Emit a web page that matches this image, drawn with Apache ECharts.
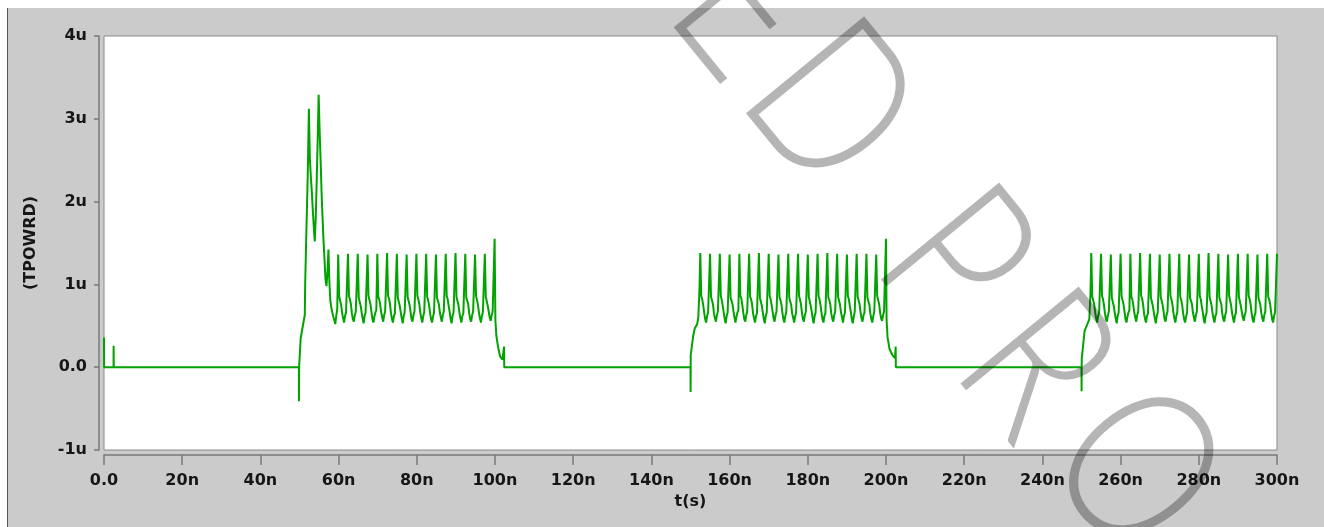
<!DOCTYPE html>
<html>
<head>
<meta charset="utf-8">
<script src="https://cdn.jsdelivr.net/npm/echarts@6/dist/echarts.min.js"></script>
<style>
  html, body { margin: 0; padding: 0; background: #ffffff; }
  #frame { position: absolute; left: 7px; top: 8px; width: 1317px; height: 519px;
           background: #cbcbcb; border-left: 1px solid #555; box-sizing: border-box; }
  #chart { position: absolute; left: 0; top: 0; width: 1324px; height: 527px; }
</style>
</head>
<body>
<div id="frame"></div>
<div id="chart"></div>
<script>
// TPOWRD transient trace: time in ns, power in u units.

// Quiet start and the first power-up edge: [t, value] pairs
const leadIn = [
  [0, 0.36], [0.02, 0], [2.44, 0], [2.46, 0.26], [2.5, 0],
  [49.84, 0], [49.86, -0.41], [49.9, 0], [50.3, 0.35], [51.35, 0.63],
  [51.45, 1.0], [51.8, 1.72], [52.1, 2.3]
];

// First burst, sampled every 0.25 ns from 52.4 ns (one row per 2.5 ns clock)
const burst1 = [
  [3.12, 2.52, 2.30, 2.12, 1.90, 1.70, 1.52, 1.80, 2.25, 2.75],
  [3.29, 2.85, 2.50, 2.10, 1.80, 1.52, 1.30, 1.06, 0.98, 1.15],
  [1.42, 1.02, 0.80, 0.72, 0.66, 0.61, 0.57, 0.52, 0.62, 0.70],
  [1.36, 0.85, 0.83, 0.75, 0.66, 0.59, 0.54, 0.62, 0.66, 0.68],
  [1.37, 0.86, 0.82, 0.76, 0.65, 0.58, 0.55, 0.63, 0.67, 0.67],
  [1.37, 0.84, 0.83, 0.74, 0.66, 0.59, 0.53, 0.62, 0.66, 0.68],
  [1.36, 0.86, 0.81, 0.76, 0.67, 0.58, 0.54, 0.61, 0.66, 0.69],
  [1.37, 0.85, 0.82, 0.75, 0.66, 0.60, 0.55, 0.63, 0.67, 0.68],
  [1.38, 0.86, 0.83, 0.76, 0.65, 0.58, 0.54, 0.62, 0.65, 0.67],
  [1.37, 0.84, 0.82, 0.74, 0.66, 0.59, 0.53, 0.62, 0.66, 0.68],
  [1.36, 0.85, 0.83, 0.75, 0.67, 0.58, 0.55, 0.63, 0.67, 0.68],
  [1.37, 0.86, 0.82, 0.76, 0.66, 0.59, 0.54, 0.62, 0.66, 0.67],
  [1.37, 0.85, 0.81, 0.75, 0.65, 0.58, 0.54, 0.61, 0.66, 0.68],
  [1.36, 0.84, 0.83, 0.76, 0.66, 0.60, 0.55, 0.63, 0.67, 0.69],
  [1.37, 0.86, 0.82, 0.74, 0.67, 0.58, 0.53, 0.62, 0.66, 0.68],
  [1.38, 0.85, 0.83, 0.75, 0.66, 0.59, 0.54, 0.62, 0.65, 0.67],
  [1.37, 0.84, 0.82, 0.76, 0.65, 0.58, 0.55, 0.63, 0.67, 0.68],
  [1.36, 0.86, 0.81, 0.75, 0.66, 0.59, 0.54, 0.62, 0.66, 0.68],
  [1.37, 0.85, 0.83, 0.74, 0.67, 0.60, 0.56, 0.63, 0.67, 0.69],
  [1.55]
];

// Power-down tail, idle gap and the second power-up edge
const gap1 = [
  [100.1, 0.57], [100.35, 0.38], [100.8, 0.24], [101.3, 0.13], [101.9, 0.09],
  [102.3, 0.07], [102.32, 0.25], [102.36, 0], [150.0, 0], [150.02, -0.3],
  [150.06, 0.15], [150.7, 0.38], [151.1, 0.47], [151.7, 0.52], [152.0, 0.6],
  [152.3, 0.95]
];

// Second burst, sampled every 0.25 ns from 152.5 ns
const burst2 = [
  [1.38, 0.86, 0.82, 0.75, 0.66, 0.58, 0.54, 0.62, 0.66, 0.68],
  [1.37, 0.85, 0.83, 0.76, 0.65, 0.59, 0.55, 0.63, 0.67, 0.67],
  [1.37, 0.86, 0.81, 0.74, 0.66, 0.58, 0.53, 0.62, 0.66, 0.68],
  [1.36, 0.84, 0.82, 0.76, 0.67, 0.60, 0.54, 0.61, 0.66, 0.69],
  [1.37, 0.86, 0.83, 0.75, 0.66, 0.58, 0.55, 0.63, 0.67, 0.68],
  [1.37, 0.85, 0.82, 0.76, 0.65, 0.59, 0.54, 0.62, 0.65, 0.67],
  [1.38, 0.84, 0.83, 0.74, 0.66, 0.58, 0.53, 0.62, 0.66, 0.68],
  [1.37, 0.86, 0.82, 0.75, 0.67, 0.59, 0.55, 0.63, 0.67, 0.68],
  [1.36, 0.85, 0.81, 0.76, 0.66, 0.58, 0.54, 0.62, 0.66, 0.67],
  [1.37, 0.84, 0.83, 0.75, 0.65, 0.60, 0.54, 0.61, 0.66, 0.68],
  [1.37, 0.86, 0.82, 0.76, 0.66, 0.58, 0.55, 0.63, 0.67, 0.69],
  [1.36, 0.85, 0.83, 0.74, 0.67, 0.59, 0.53, 0.62, 0.66, 0.68],
  [1.37, 0.86, 0.82, 0.75, 0.66, 0.58, 0.54, 0.62, 0.65, 0.67],
  [1.38, 0.84, 0.81, 0.76, 0.65, 0.59, 0.55, 0.63, 0.67, 0.68],
  [1.37, 0.85, 0.83, 0.75, 0.66, 0.60, 0.54, 0.62, 0.66, 0.68],
  [1.36, 0.86, 0.82, 0.74, 0.67, 0.58, 0.53, 0.61, 0.67, 0.69],
  [1.37, 0.85, 0.83, 0.76, 0.66, 0.59, 0.55, 0.63, 0.66, 0.68],
  [1.37, 0.84, 0.82, 0.75, 0.65, 0.58, 0.54, 0.62, 0.67, 0.67],
  [1.36, 0.86, 0.81, 0.76, 0.66, 0.59, 0.56, 0.63, 0.67, 0.69],
  [1.55]
];

// Second power-down tail, idle gap and the third power-up edge
const gap2 = [
  [200.15, 0.57], [200.4, 0.36], [200.9, 0.22], [201.6, 0.15], [202.3, 0.11],
  [202.45, 0.1], [202.47, 0.25], [202.52, 0], [250.0, 0], [250.02, -0.29],
  [250.06, 0.1], [250.8, 0.44], [251.5, 0.52], [252.0, 0.58], [252.3, 0.9]
];

// Third burst, sampled every 0.25 ns from 252.5 ns up to the end of the run
const burst3 = [
  [1.38, 0.85, 0.83, 0.76, 0.66, 0.59, 0.54, 0.62, 0.66, 0.68],
  [1.37, 0.86, 0.82, 0.75, 0.65, 0.58, 0.55, 0.63, 0.67, 0.67],
  [1.36, 0.84, 0.83, 0.74, 0.66, 0.59, 0.53, 0.62, 0.66, 0.68],
  [1.37, 0.86, 0.81, 0.76, 0.67, 0.58, 0.54, 0.61, 0.66, 0.69],
  [1.37, 0.85, 0.82, 0.75, 0.66, 0.60, 0.55, 0.63, 0.67, 0.68],
  [1.38, 0.86, 0.83, 0.76, 0.65, 0.58, 0.54, 0.62, 0.65, 0.67],
  [1.37, 0.84, 0.82, 0.74, 0.66, 0.59, 0.53, 0.62, 0.66, 0.68],
  [1.36, 0.85, 0.83, 0.75, 0.67, 0.58, 0.55, 0.63, 0.67, 0.68],
  [1.37, 0.86, 0.82, 0.76, 0.66, 0.59, 0.54, 0.62, 0.66, 0.67],
  [1.37, 0.85, 0.81, 0.75, 0.65, 0.58, 0.54, 0.61, 0.66, 0.68],
  [1.36, 0.84, 0.83, 0.76, 0.66, 0.60, 0.55, 0.63, 0.67, 0.69],
  [1.37, 0.86, 0.82, 0.74, 0.67, 0.58, 0.53, 0.62, 0.66, 0.68],
  [1.38, 0.85, 0.83, 0.75, 0.66, 0.59, 0.54, 0.62, 0.65, 0.67],
  [1.37, 0.84, 0.82, 0.76, 0.65, 0.58, 0.55, 0.63, 0.67, 0.68],
  [1.36, 0.86, 0.81, 0.75, 0.66, 0.59, 0.54, 0.62, 0.66, 0.68],
  [1.37, 0.85, 0.83, 0.74, 0.67, 0.60, 0.56, 0.63, 0.67, 0.69],
  [1.37, 0.86, 0.82, 0.76, 0.66, 0.58, 0.54, 0.62, 0.66, 0.68],
  [1.36, 0.84, 0.83, 0.75, 0.65, 0.59, 0.55, 0.63, 0.67, 0.67],
  [1.37, 0.85, 0.82, 0.76, 0.66, 0.58, 0.54, 0.62, 0.66, 0.68],
  [1.37]
];

const SAMPLE_STEP = 0.25; // ns between burst samples

// Axis ranges and tick labels
const xRange = [0, 300];
const xStep = 20;
const yRange = [-1, 4];
const yStep = 1;
const xTickLabel = v => (v === 0 ? '0.0' : v + 'n');
const yTickLabel = v => (v === 0 ? '0.0' : v + 'u');

// Watermark letters: glyph, centre x, centre y
const markLetters = [
  ['E', 748, 8],
  ['D', 830, 106],
  ['P', 955, 260],
  ['R', 1036, 366],
  ['O', 1136, 470]
];

function sampled(start, rows) {
  return rows.flat().map((v, i) => [+(start + i * SAMPLE_STEP).toFixed(3), v]);
}

const trace = [].concat(
  leadIn,
  sampled(52.4, burst1),
  gap1,
  sampled(152.5, burst2),
  gap2,
  sampled(252.5, burst3)
);

const labelFont = {
  fontFamily: 'DejaVu Sans',
  fontWeight: 'bold',
  fontSize: 16,
  color: '#161616'
};
const axisGrey = '#7a7a7a';

const chart = echarts.init(document.getElementById('chart'), null, { renderer: 'canvas' });

const rot = -50.7 * Math.PI / 180;

chart.setOption({
  animation: false,
  backgroundColor: 'transparent',
  grid: {
    left: 104, right: 47, top: 36, bottom: 77,
    show: true,
    backgroundColor: '#ffffff',
    borderColor: '#8a8a8a',
    borderWidth: 1
  },
  xAxis: {
    type: 'value',
    min: xRange[0], max: xRange[1], interval: xStep,
    offset: 5,
    name: 't(s)',
    nameLocation: 'middle',
    nameGap: 39,
    nameTextStyle: labelFont,
    axisLine: { show: true, onZero: false, lineStyle: { color: axisGrey, width: 1.5 } },
    axisTick: { show: true, length: 10, lineStyle: { color: axisGrey, width: 1.5 } },
    axisLabel: Object.assign({ margin: 18, formatter: xTickLabel }, labelFont),
    splitLine: { show: false }
  },
  yAxis: {
    type: 'value',
    min: yRange[0], max: yRange[1], interval: yStep,
    offset: 5,
    name: '(TPOWRD)',
    nameLocation: 'middle',
    nameGap: 60,
    nameRotate: 90,
    nameTextStyle: labelFont,
    axisLine: { show: true, onZero: false, lineStyle: { color: axisGrey, width: 1.5 } },
    axisTick: { show: true, length: 5, lineStyle: { color: axisGrey, width: 1.5 } },
    axisLabel: Object.assign({ margin: 12, formatter: yTickLabel }, labelFont),
    splitLine: { show: false }
  },
  series: [{
    type: 'line',
    data: trace,
    showSymbol: false,
    symbol: 'none',
    lineStyle: { color: '#00a300', width: 2 },
    itemStyle: { color: '#00a300' },
    emphasis: { disabled: true },
    silent: true
  }],
  graphic: markLetters.map(([ch, x, y]) => ({
    type: 'text',
    x: x, y: y,
    rotation: rot,
    scaleX: 0.8,
    z: 100,
    silent: true,
    style: {
      text: ch,
      fill: 'rgba(0,0,0,0.29)',
      font: '300 216px Lato',
      align: 'center',
      verticalAlign: 'middle',
      textAlign: 'center',
      textVerticalAlign: 'middle'
    }
  }))
});
</script>
</body>
</html>
